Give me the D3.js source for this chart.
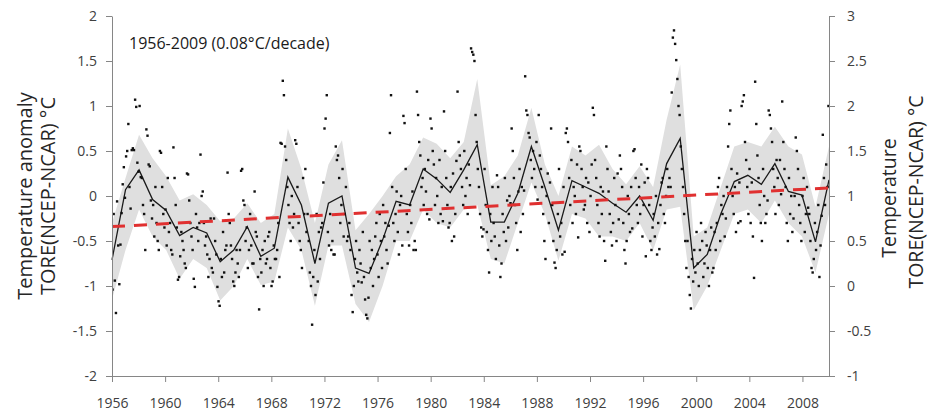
<!DOCTYPE html>
<html>
<head>
<meta charset="utf-8">
<script src="https://cdn.jsdelivr.net/npm/d3@7"></script>
<style>
  body { margin: 0; background: #fff; }
  text { font-family: "Open Sans", sans-serif; }
</style>
</head>
<body>
<div id="chart"></div>
<script>
var svgWidth = 932;
var svgHeight = 413;

var margin = { top: 16, right: 103, bottom: 37, left: 112 };
var width = svgWidth - margin.left - margin.right;
var height = svgHeight - margin.top - margin.bottom;

// annual values, 1956-2009
var years = [1956, 1957, 1958, 1959, 1960, 1961, 1962, 1963, 1964, 1965,
  1966, 1967, 1968, 1969, 1970, 1971, 1972, 1973, 1974, 1975,
  1976, 1977, 1978, 1979, 1980, 1981, 1982, 1983, 1984, 1985,
  1986, 1987, 1988, 1989, 1990, 1991, 1992, 1993, 1994, 1995,
  1996, 1997, 1998, 1999, 2000, 2001, 2002, 2003, 2004, 2005,
  2006, 2007, 2008, 2009];

var annual = [-0.71, 0.07, 0.29, -0.04, -0.16, -0.44, -0.35, -0.41, -0.73, -0.6,
  -0.34, -0.67, -0.58, 0.21, -0.1, -0.75, -0.08, 0.0, -0.8, -0.86,
  -0.49, -0.06, -0.1, 0.3, 0.19, 0.04, 0.29, 0.57, -0.29, -0.29,
  0.03, 0.55, 0.1, -0.38, 0.17, 0.1, 0.03, -0.08, -0.18, 0.0,
  -0.27, 0.36, 0.64, -0.8, -0.65, -0.2, 0.16, 0.23, 0.13, 0.36,
  0.05, 0.01, -0.51, 0.18];

// grey band (upper / lower)
var bandUpper = [-0.3, 0.2, 0.68, 0.42, 0.22, -0.05, 0.02, -0.1, -0.28, -0.25,
  -0.08, -0.3, -0.2, 0.75, 0.3, -0.3, 0.35, 0.62, -0.38, -0.2,
  0.0, 0.22, 0.35, 0.65, 0.58, 0.42, 0.6, 1.3, 0.12, 0.22,
  0.45, 0.98, 0.35, 0.0, 0.55, 0.45, 0.57, 0.3, 0.13, 0.33,
  0.1, 0.85, 1.46, -0.45, -0.35, 0.1, 0.55, 0.6, 0.55, 0.77,
  0.55, 0.46, -0.12, 0.55];

var bandLower = [-1.15, -0.6, -0.15, -0.45, -0.6, -0.92, -0.7, -0.8, -1.16, -1.0,
  -0.7, -0.99, -0.95, -0.35, -0.6, -1.22, -0.55, -0.55, -1.2, -1.4,
  -1.0, -0.5, -0.5, -0.15, -0.3, -0.35, -0.15, -0.1, -0.7, -0.75,
  -0.3, 0.15, -0.2, -0.72, -0.2, -0.25, -0.45, -0.45, -0.5, -0.3,
  -0.6, -0.15, -0.12, -1.27, -1.0, -0.6, -0.2, -0.15, -0.3, -0.05,
  -0.3, -0.45, -0.85, -0.2];

// monthly anomalies, one row per year (Jan..Dec)
var monthly = [
  [-0.6, -0.9, -0.5, -0.8, -0.4, -0.7, -1.04, -0.2, -0.94, -1.3, -0.06, -0.55],
  [-0.98, -0.54, -0.19, 0.13, 0.32, -0.02, 0.44, 0.5, 0.8, 0.1, -0.14, 0.51],
  [0.53, 0.51, 1.07, 0.99, 0.37, 0.27, 1.0, 0.21, 0.2, -0.1, -0.2, -0.6],
  [0.74, 0.67, 0.35, 0.33, -0.05, -0.25, -0.1, -0.45, 0.1, -0.3, -0.5, -0.6],
  [0.5, 0.48, 0.1, -0.2, -0.35, -0.15, -0.55, 0.2, -0.4, -0.3, -0.6, -0.65],
  [0.54, 0.2, -0.1, -0.35, -0.93, -0.9, -0.67, -0.4, -0.5, -0.6, -0.75, -0.8],
  [0.25, 0.24, -0.05, -0.3, -0.45, -0.6, -0.92, -1.01, -0.2, -0.35, -0.5, -0.3],
  [0.46, 0.0, 0.05, -0.3, -0.55, -0.45, -0.65, -0.9, -0.7, -0.25, -0.8, -0.85],
  [-0.25, -0.5, -0.65, -1.01, -1.17, -1.22, -0.7, -0.9, -0.4, -0.85, -0.6, -0.55],
  [0.26, -0.2, -0.3, -0.55, -0.7, -0.95, -1.0, -0.85, -0.6, -0.75, -0.9, -0.6],
  [0.28, 0.3, -0.05, -0.1, -0.5, -0.35, -0.8, -0.6, -0.2, -0.55, -0.75, -0.75],
  [0.05, -0.4, -0.45, -0.9, -1.26, -0.7, -0.85, -0.6, -1.0, -0.5, -0.75, -0.7],
  [-0.45, -0.4, -0.8, -1.0, -0.95, -0.55, -0.7, -0.7, -0.6, -0.3, -0.9, 0.59],
  [0.58, 1.28, 1.12, 0.55, 0.4, 0.1, -0.1, -0.3, -0.5, 0.0, -0.35, -0.2],
  [0.62, 0.58, 0.1, -0.3, -0.5, -0.6, -0.8, 0.2, -0.2, 0.3, -0.4, -0.2],
  [-0.5, -0.85, -1.0, -1.43, -0.9, -0.6, -1.1, -0.2, -0.95, -0.4, -0.7, -0.35],
  [-0.3, 0.15, 0.75, 0.86, 1.12, -0.4, -0.55, -0.2, -0.6, -0.5, -0.65, -0.65],
  [0.55, 0.4, 0.45, 0.2, -0.3, -0.1, 0.3, -0.45, -0.2, 0.1, -0.5, -0.45],
  [-0.3, -0.6, -1.1, -1.29, -1.0, -0.7, -0.5, -0.85, -0.95, -0.6, -0.75, -0.96],
  [-0.4, -0.9, -1.15, -1.32, -1.36, -1.13, -0.5, -0.8, -0.6, -1.0, -0.7, -0.45],
  [-0.3, -0.65, -0.9, -0.2, -0.5, -0.8, -0.1, -0.45, -0.3, -0.6, -0.75, -0.33],
  [0.7, 1.12, 0.1, -0.3, -0.5, -0.2, 0.05, -0.4, -0.65, -0.1, 0.0, -0.55],
  [0.89, 0.81, 0.3, -0.2, -0.4, -0.55, -0.1, -0.3, 0.05, -0.6, -0.5, -0.6],
  [1.16, 0.9, 0.6, 0.45, 0.1, 0.2, -0.1, 0.3, 0.05, -0.2, 0.4, -0.26],
  [0.86, 0.75, 0.5, 0.35, -0.1, 0.2, 0.0, -0.3, 0.4, -0.2, 0.1, -0.28],
  [0.94, 0.5, 0.2, -0.1, -0.35, -0.3, 0.1, -0.5, 0.25, -0.45, -0.2, 0.39],
  [1.16, 0.6, 0.45, 0.3, 0.1, -0.1, 0.5, 0.0, 0.2, -0.2, 0.35, 0.12],
  [1.64, 1.6, 1.57, 1.5, 0.9, 0.6, 0.3, 0.1, -0.2, -0.35, -0.45, -0.37],
  [0.3, -0.1, -0.4, -0.6, -0.85, -0.2, -0.5, 0.1, -0.3, -0.45, -0.7, 0.23],
  [0.1, -0.55, -0.9, -0.75, -0.2, -0.4, 0.2, -0.5, -0.05, -0.35, 0.0, -0.08],
  [0.75, 0.5, 0.2, -0.1, -0.3, -0.6, 0.05, 0.3, -0.4, 0.1, -0.2, 0.06],
  [1.33, 0.95, 0.9, 0.7, 0.65, 0.4, 0.2, 0.5, 0.3, 0.1, 0.6, -0.04],
  [0.9, 0.45, 0.3, 0.1, -0.2, -0.5, -0.7, 0.0, 0.25, -0.3, 0.15, 0.75],
  [-0.1, -0.5, -0.74, -0.8, -0.6, -0.2, 0.3, -0.45, -0.3, -0.65, 0.1, -0.62],
  [0.7, 0.75, 0.6, 0.2, -0.1, 0.4, -0.3, 0.1, 0.0, -0.2, 0.35, -0.46],
  [0.55, 0.5, 0.3, 0.1, -0.15, -0.1, 0.2, -0.3, 0.15, -0.4, 0.0, 0.35],
  [0.98, 0.9, 0.4, 0.2, -0.1, -0.3, -0.45, 0.1, -0.2, 0.05, -0.5, -0.72],
  [0.55, 0.3, 0.05, -0.2, -0.4, -0.55, -0.3, 0.2, -0.1, -0.5, 0.25, -0.26],
  [0.45, 0.3, 0.1, -0.3, -0.6, -0.75, -0.5, 0.0, -0.2, -0.4, 0.1, -0.36],
  [0.5, 0.52, 0.2, -0.1, -0.3, 0.1, -0.2, 0.35, -0.45, -0.1, 0.15, -0.67],
  [0.3, 0.2, -0.1, -0.5, -0.6, -0.35, -0.2, -0.45, 0.0, -0.65, -0.3, -0.59],
  [-0.1, 0.15, 0.2, -0.2, -0.3, 0.0, 0.3, 0.1, 0.2, 0.1, 1.15, 1.76],
  [1.84, 1.69, 1.51, 1.3, 1.0, 0.9, 0.55, 0.3, 0.1, -0.2, -0.5, -0.8],
  [-0.5, -0.9, -1.1, -1.25, -0.7, -0.95, -0.6, -0.85, -0.4, -0.75, -1.0, -0.6],
  [-0.3, -0.5, -0.9, -0.75, -0.4, -0.55, -0.8, -1.0, -0.6, -0.35, -0.85, -0.8],
  [-0.4, -0.6, -0.3, 0.1, 0.2, -0.5, -0.1, -0.2, 0.0, -0.45, -0.25, 0.1],
  [0.55, 0.8, 0.95, 0.3, 0.0, -0.2, 0.1, -0.4, 0.25, -0.3, 0.15, -0.28],
  [1.0, 1.05, 1.12, 0.6, 0.4, 0.1, -0.2, 0.3, -0.3, 0.15, -0.45, -0.91],
  [1.27, 0.8, 0.45, 0.2, -0.1, -0.3, -0.5, 0.3, 0.0, -0.3, -0.2, -0.05],
  [0.95, 0.9, 0.75, 0.6, 0.3, 0.1, -0.2, 0.4, 0.2, -0.1, 0.4, 0.02],
  [1.05, 0.6, 0.3, 0.1, -0.3, -0.5, 0.2, -0.2, 0.0, -0.4, -0.25, 0.0],
  [0.65, 0.5, 0.3, -0.1, -0.3, -0.5, 0.0, 0.2, -0.4, -0.2, 0.1, -0.13],
  [-0.2, -0.5, -0.8, -0.85, -0.7, -0.3, -0.6, -0.4, -0.1, -0.9, -0.55, -0.22],
  [0.68, 0.2, -0.1, 0.35, 0.1, 1.0, 0.1, 0.0, -0.2, 0.1, -0.05, 0.0]
];

// linear trend 0.08 C/decade
var trendYears = [1956, 2009];
var trendValues = [-0.34, 0.09];

var xTickValues = [1956, 1960, 1964, 1968, 1972, 1976, 1980, 1984, 1988, 1992, 1996, 2000, 2004, 2008];
var leftTicks = [-2, -1.5, -1, -0.5, 0, 0.5, 1, 1.5, 2];
var rightTicks = [-1, -0.5, 0, 0.5, 1, 1.5, 2, 2.5, 3];

var svg = d3.select("#chart")
  .append("svg")
  .attr("width", svgWidth)
  .attr("height", svgHeight);

var chartGroup = svg.append("g")
  .attr("transform", `translate(${margin.left}, ${margin.top})`);

// data series sit on their own year scale, the labelled axis on another
var xScale = d3.scaleLinear().domain([1956, 2009]).range([0, width]);
var xAxisScale = d3.scaleLinear().domain([1956, 2010]).range([0, width]);
var yScale = d3.scaleLinear().domain([-2, 2]).range([height, 0]);
var yScaleRight = d3.scaleLinear().domain([-1, 3]).range([height, 0]);

chartGroup.append("clipPath").attr("id", "plotclip")
  .append("rect").attr("width", width).attr("height", height);

// grey band
var area = d3.area()
  .x((d, i) => xScale(years[i]))
  .y0((d, i) => yScale(bandLower[i]))
  .y1((d, i) => yScale(bandUpper[i]));

chartGroup.append("path")
  .datum(years)
  .attr("d", area)
  .attr("fill", "#dfdfdf");

// annual line
var line = d3.line()
  .x((d, i) => xScale(years[i]))
  .y(d => yScale(d));

chartGroup.append("path")
  .datum(annual)
  .attr("d", line)
  .attr("fill", "none")
  .attr("stroke", "#1a1a1a")
  .attr("stroke-width", 1.3);

// monthly dots
var points = [];
monthly.forEach(function(row, i) {
  row.forEach(function(v, m) {
    points.push({ t: years[i] + (m - 5.5) / 12, v: v });
  });
});

chartGroup.append("g")
  .attr("clip-path", "url(#plotclip)")
  .selectAll("rect")
  .data(points)
  .enter()
  .append("rect")
  .attr("x", d => xScale(d.t) - 1.2)
  .attr("y", d => yScale(d.v) - 1.2)
  .attr("width", 2.4)
  .attr("height", 2.4)
  .attr("fill", "#111");

// trend
chartGroup.append("path")
  .datum(trendValues)
  .attr("d", d3.line().x((d, i) => xScale(trendYears[i])).y(d => yScale(d)))
  .attr("fill", "none")
  .attr("stroke", "#e03030")
  .attr("stroke-width", 3)
  .attr("stroke-dasharray", "13,9");

// axes
var bottomAxis = d3.axisBottom(xAxisScale).tickValues(xTickValues)
  .tickFormat(d => d).tickSize(6).tickSizeOuter(0).tickPadding(16);
var leftAxis = d3.axisLeft(yScale).tickValues(leftTicks)
  .tickFormat(d => String(d)).tickSize(6).tickSizeOuter(0).tickPadding(9);
var rightAxis = d3.axisRight(yScaleRight).tickValues(rightTicks)
  .tickFormat(d => String(d)).tickSize(6).tickSizeOuter(0).tickPadding(12);

function styleAxis(g) {
  g.select(".domain").attr("stroke", "#868686");
  g.selectAll(".tick line").attr("stroke", "#868686");
  g.selectAll(".tick text").attr("fill", "#404040")
    .style("font-size", "14px")
    .style("font-family", "'Open Sans', sans-serif");
}

chartGroup.append("g")
  .attr("transform", `translate(0, ${height})`)
  .call(bottomAxis).call(styleAxis);

chartGroup.append("g")
  .call(leftAxis).call(styleAxis);

chartGroup.append("g")
  .attr("transform", `translate(${width}, 0)`)
  .call(rightAxis).call(styleAxis);

// axis titles
var leftTitle = svg.append("text")
  .attr("transform", `translate(0, ${margin.top + height / 2}) rotate(-90)`)
  .attr("text-anchor", "middle")
  .attr("fill", "#262626")
  .style("font-size", "20px");
leftTitle.append("tspan").attr("x", 0).attr("y", 32).text("Temperature anomaly");
leftTitle.append("tspan").attr("x", 0).attr("y", 55).text("TORE(NCEP-NCAR) °C");

var rightTitle = svg.append("text")
  .attr("transform", `translate(0, ${margin.top + height / 2}) rotate(-90)`)
  .attr("text-anchor", "middle")
  .attr("fill", "#262626")
  .style("font-size", "19.5px");
rightTitle.append("tspan").attr("x", -2).attr("y", 896).text("Temperature");
rightTitle.append("tspan").attr("x", 4).attr("y", 923).text("TORE(NCEP-NCAR) °C");

// annotation
chartGroup.append("text")
  .attr("x", 17)
  .attr("y", 33)
  .attr("fill", "#1a1a1a")
  .style("font-size", "16px")
  .text("1956-2009 (0.08°C/decade)");
</script>
</body>
</html>
